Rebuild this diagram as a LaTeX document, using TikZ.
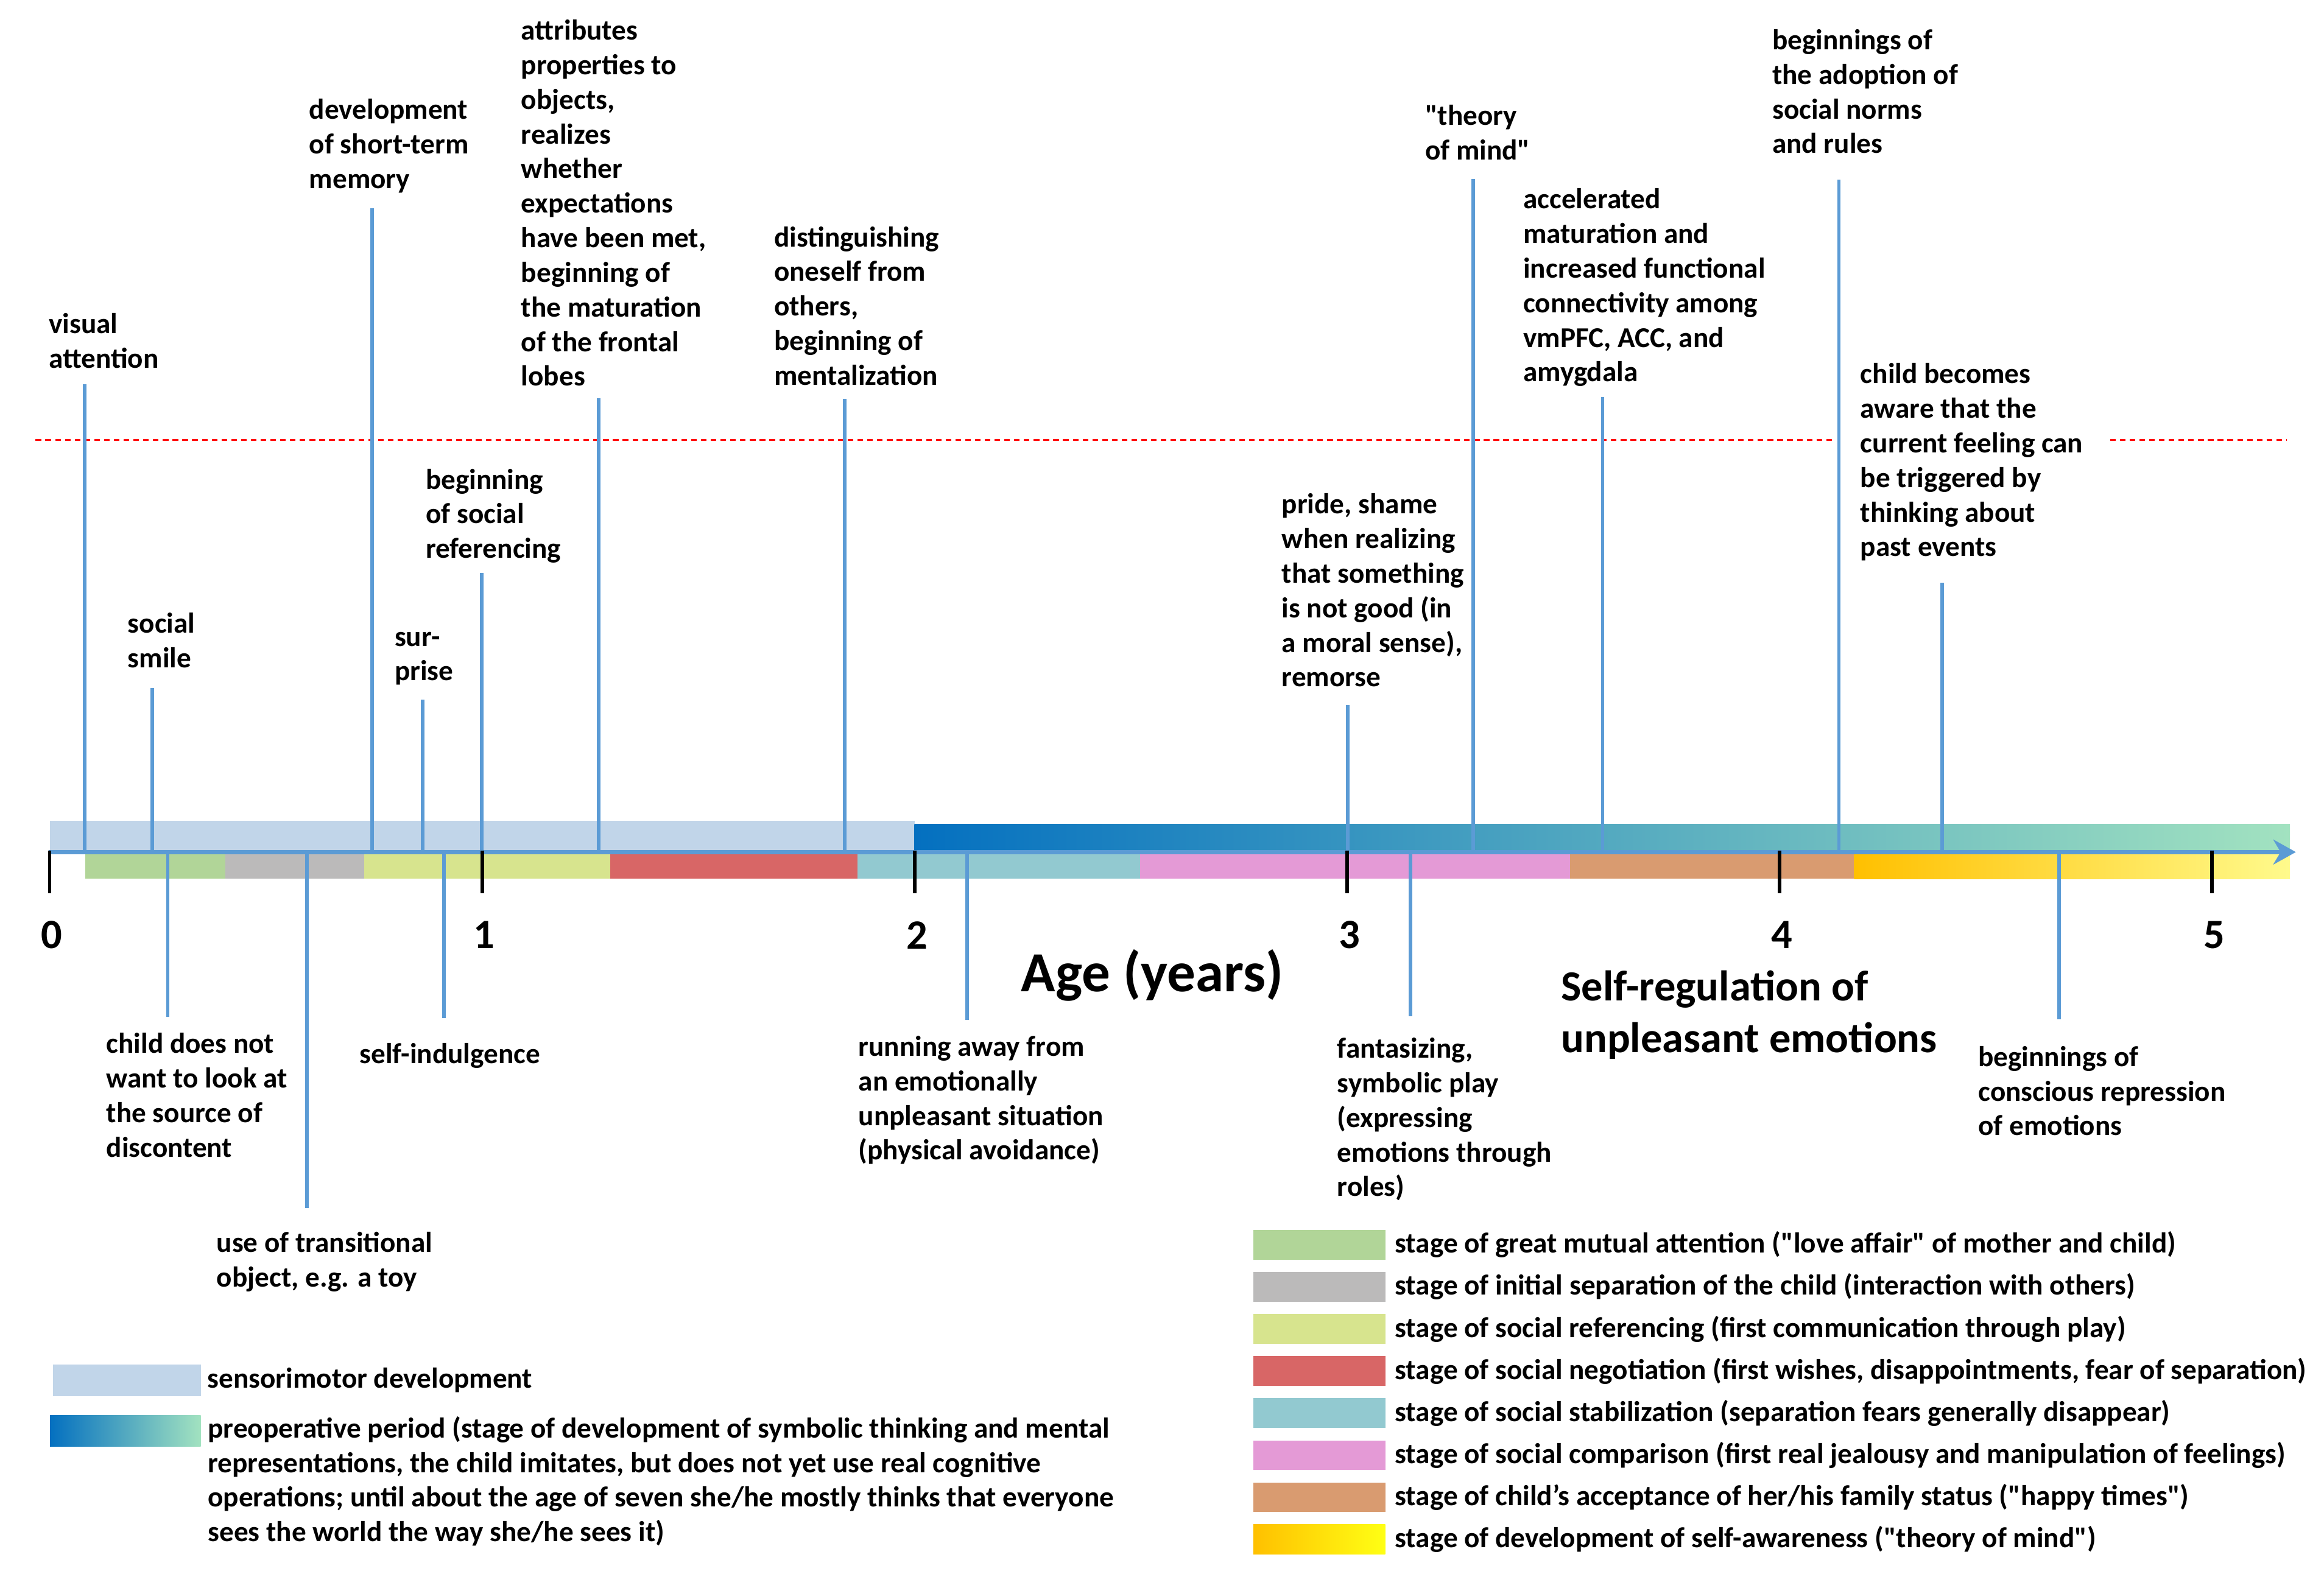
\documentclass[tikz,border=0pt]{standalone}
\usepackage{fontspec}
\setmainfont{Carlito}
\newfontfamily\calfam{Carlito}
\usetikzlibrary{arrows.meta,calc}

\definecolor{evblue}{RGB}{91,155,213}
\definecolor{sensocol}{RGB}{193,213,233}
\definecolor{preopA}{RGB}{4,112,192}
\definecolor{preopB}{RGB}{70,168,170}
\definecolor{preopC}{RGB}{162,226,192}
\definecolor{mutualcol}{RGB}{177,213,152}
\definecolor{separcol}{RGB}{187,186,186}
\definecolor{refercol}{RGB}{215,228,142}
\definecolor{negotcol}{RGB}{216,102,102}
\definecolor{stabcol}{RGB}{146,201,208}
\definecolor{comparcol}{RGB}{228,154,214}
\definecolor{familycol}{RGB}{217,155,112}
\definecolor{selfA}{RGB}{255,192,0}
\definecolor{selfB}{RGB}{254,220,60}
\definecolor{selfC}{RGB}{255,250,140}
\definecolor{selfD}{RGB}{255,255,20}

\newcommand\evfont{\calfam\fontsize{13.8}{16.6}\selectfont\bfseries}
\newcommand\yearfont{\calfam\fontsize{20}{24}\selectfont\bfseries}
\newcommand\agefont{\calfam\fontsize{27.2}{32}\selectfont\bfseries}
\newcommand\regfont{\calfam\fontsize{20.6}{24.8}\selectfont\bfseries}

\begin{document}
\begin{tikzpicture}[x=0.025cm,y=-0.025cm,
  evline/.style={evblue,line width=0.06cm},
  lbl/.style={anchor=north west,align=left,inner sep=0pt,font=\evfont,yshift=-0.03cm},
  legtext/.style={anchor=west,inner sep=0pt,font=\evfont},
  swatch/.style={inner sep=0pt,minimum width=2.225cm,minimum height=0.5cm}]
\def\axy{575}
\useasboundingbox (0,0) rectangle (1568,1061.8);

% periods above the axis
\fill[sensocol] (33.6,554) rectangle (617,\axy);
\shade[left color=preopA,middle color=preopB,right color=preopC] (617,556) rectangle (1545,\axy);

% stages below the axis
\foreach \a/\b/\c in {57.5/152/mutualcol,152/245.7/separcol,245.7/411.7/refercol,411.7/578.6/negotcol,578.6/769/stabcol,769/1059.5/comparcol,1059.5/1251/familycol}
  \fill[\c] (\a,576) rectangle (\b,593);
\shade[left color=selfA,middle color=selfB,right color=selfC] (1251,576) rectangle (1545,593);

% red dashed level
\draw[red,line width=0.03cm,dash pattern=on 0.095cm off 0.07cm] (24,297) -- (1543,297);

% events above the axis
\node[lbl] (visatt) at (32.7,207.2) {\strut visual\\attention\strut};
\node[lbl] (smile) at (86,409.2) {\strut social\\smile\strut};
\node[lbl] (stmem) at (208.4,62.6) {\strut development\\of short-term\\memory\strut};
\node[lbl] (surpr) at (266,418.2) {\strut sur-\\prise\strut};
\node[lbl] (socref) at (287,312.2) {\strut beginning\\of social\\referencing\strut};
\node[lbl] (attrib) at (351.4,9.2) {\strut attributes\\properties to\\objects,\\realizes\\whether\\expectations\\have been met,\\beginning of\\the maturation\\of the frontal\\lobes\strut};
\node[lbl] (distin) at (522,148.6) {\strut distinguishing\\oneself from\\others,\\beginning of\\mentalization\strut};
\node[lbl] (pride) at (864.6,328.9) {\strut pride, shame\\when realizing\\that something\\is not good (in\\a moral sense),\\remorse\strut};
\node[lbl] (tom) at (961.3,66.8) {\strut "theory\\of mind"\strut};
\node[lbl] (accel) at (1027.5,123.1) {\strut accelerated\\maturation and\\increased functional\\connectivity among\\vmPFC, ACC, and\\amygdala\strut};
\node[lbl] (norms) at (1195.5,15.7) {\strut beginnings of\\the adoption of\\social norms\\and rules\strut};
\node[lbl,fill=white,inner xsep=0.45cm] (aware) at (1237,241) {\strut child becomes\\aware that the\\current feeling can\\be triggered by\\thinking about\\past events\strut};

% events below the axis
\node[lbl] (lookaway) at (71.5,692.9) {\strut child does not\\want to look at\\the source of\\discontent\strut};
\node[lbl] (transit) at (145.9,827.2) {\strut use of transitional\\object, e.g. a toy\strut};
\node[lbl] (indulg) at (242.4,699.7) {\strut self-indulgence\strut};
\node[lbl] (runaway) at (579,694.9) {\strut running away from\\an emotionally\\unpleasant situation\\(physical avoidance)\strut};
\node[lbl] (fantas) at (902,696.2) {\strut fantasizing,\\symbolic play\\(expressing\\emotions through\\roles)\strut};
\node[lbl] (repress) at (1334.5,701.8) {\strut beginnings of\\conscious repression\\of emotions\strut};

% event lines
\foreach \nm/\x/\g in {visatt/57/3.5,smile/102.7/6.5,stmem/251/6.3,surpr/285/5.5,socref/325/2.5,attrib/403.8/1,distin/569.8/2,pride/909.2/5.3,tom/994/5.6,accel/1081.3/2.9,norms/1240.7/10.4,aware/1310.3/10.5}{
  \coordinate (\nm-ax) at (\x,\axy);
  \draw[evline] (\nm-ax) -- ($(\nm-ax |- \nm.south)+(0,\g)$);
}
\foreach \nm/\x/\g in {lookaway/113.2/7.7,transit/207/13.2,indulg/299.4/13.7,runaway/652.4/7.9,fantas/951.6/11.7,repress/1389.3/15.3}{
  \coordinate (\nm-ax) at (\x,\axy);
  \draw[evline] (\nm-ax) -- ($(\nm-ax |- \nm.north)-(0,\g)$);
}

% age axis
\draw[evblue,line width=0.075cm,-{Stealth[length=0.38cm,width=0.42cm]}] (33,\axy) -- (1549,\axy);
\foreach \n in {0,...,5}{
  \draw[line width=0.06cm] (33.5+291.8*\n,573.9) -- (33.5+291.8*\n,602.7);
  \node[font=\yearfont,inner sep=0pt] (yr\n) at (35+291.8*\n,631) {\n};
}
\node[font=\agefont,inner sep=0pt] (agelbl) at (777.4,658) {Age (years)};
\node[lbl,font=\regfont] (selfreg) at (1053,649.6) {\strut Self-regulation of\\unpleasant emotions\strut};

% legend, periods
\node[swatch,fill=sensocol,minimum width=2.49cm,minimum height=0.525cm] (senso-sw) at (85.6,931.5) {};
\node[legtext] (senso-leg) at ([xshift=0.1cm]senso-sw.east) {sensorimotor development};
\node[swatch,left color=preopA,middle color=preopB,right color=preopC,minimum width=2.54cm,minimum height=0.515cm] (preop-sw) at (84.6,965.6) {};
\node[lbl] (preop-leg) at (140,952.4) {\strut preoperative period (stage of development of symbolic thinking and mental\\representations, the child imitates, but does not yet use real cognitive\\operations; until about the age of seven she/he mostly thinks that everyone\\sees the world the way she/he sees it)\strut};

% legend, stages
\foreach \c/\t [count=\i] in {mutualcol/{stage of great mutual attention ("love affair" of mother and child)},
  separcol/{stage of initial separation of the child (interaction with others)},
  refercol/{stage of social referencing (first communication through play)},
  negotcol/{stage of social negotiation (first wishes, disappointments, fear of separation)},
  stabcol/{stage of social stabilization (separation fears generally disappear)},
  comparcol/{stage of social comparison (first real jealousy and manipulation of feelings)},
  familycol/{stage of child’s acceptance of her/his family status ("happy times")}}{
  \node[swatch,fill=\c] (sw\i) at (890.1,811.6+28.4*\i) {};
  \node[legtext] (leg\i) at ([xshift=0.15cm]sw\i.east) {\t};
}
\node[swatch,left color=selfA,right color=selfD] (sw8) at (890.1,1038.8) {};
\node[legtext] (leg8) at ([xshift=0.15cm]sw8.east) {stage of development of self-awareness ("theory of mind")};
\end{tikzpicture}
\end{document}
